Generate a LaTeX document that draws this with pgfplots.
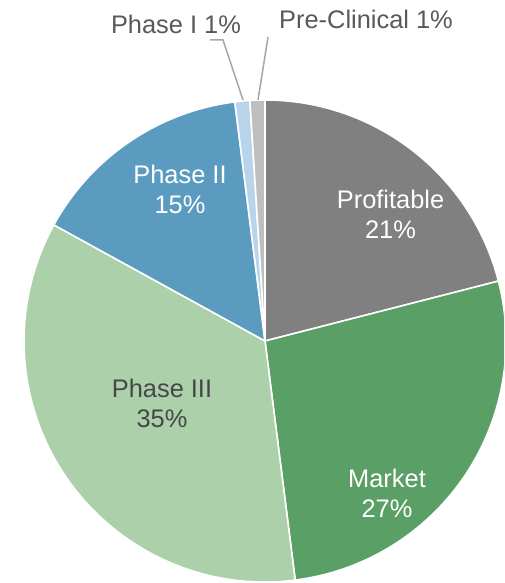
\documentclass[border=0pt]{standalone}
\usepackage{fontspec}
\setmainfont{Liberation Sans}
\usepackage{pgfplots}
\pgfplotsset{compat=1.18}

\definecolor{cProf}{HTML}{808080}
\definecolor{cMarket}{HTML}{5A9F66}
\definecolor{cPIII}{HTML}{ABD0AA}
\definecolor{cPII}{HTML}{5B9BC0}
\definecolor{cPI}{HTML}{B8D4EA}
\definecolor{cPre}{HTML}{BFBFBF}
\definecolor{txt}{HTML}{595959}
\definecolor{lead}{HTML}{A6A6A6}
\tikzset{lbl/.style={font=\fontsize{12.7}{15}\selectfont, align=center, inner sep=0pt}}

\begin{document}
\begin{tikzpicture}
% shares (%): Profitable 21, Market 27, Phase III 35, Phase II 15, Phase I 1, Pre-Clinical 1
% one axis unit = one pixel of the reference; centre (265,242), radius 241
\begin{axis}[
  x=0.5pt, y=0.5pt, scale only axis,
  xmin=0, xmax=504, ymin=0, ymax=583,
  hide axis, clip=true,
]
\path (rel axis cs:0,0) rectangle (rel axis cs:1,1);
% --- slices, clockwise from 12 o'clock ---
\addplot[fill=cProf, draw=white, line width=0.8pt]
  coordinates {(265,242) (265,483)} arc[start angle=90, delta angle=-21*3.6, radius=120.5pt] -- cycle;
\addplot[fill=cMarket, draw=white, line width=0.8pt]
  coordinates {(265,242) (498.43,301.93)} arc[start angle=90-21*3.6, delta angle=-27*3.6, radius=120.5pt] -- cycle;
\addplot[fill=cPIII, draw=white, line width=0.8pt]
  coordinates {(265,242) (295.20,2.90)} arc[start angle=90-48*3.6, delta angle=-35*3.6, radius=120.5pt] -- cycle;
\addplot[fill=cPII, draw=white, line width=0.8pt]
  coordinates {(265,242) (53.81,358.10)} arc[start angle=90-83*3.6, delta angle=-15*3.6, radius=120.5pt] -- cycle;
\addplot[fill=cPI, draw=white, line width=0.8pt]
  coordinates {(265,242) (234.80,481.10)} arc[start angle=90-98*3.6, delta angle=-1*3.6, radius=120.5pt] -- cycle;
\addplot[fill=cPre, draw=white, line width=0.8pt]
  coordinates {(265,242) (249.87,482.53)} arc[start angle=90-99*3.6, delta angle=-1*3.6, radius=120.5pt] -- cycle;
% --- leader lines ---
\addplot[lead, line width=0.75pt] coordinates {(210,543) (223,543) (243,483)};
\addplot[lead, line width=0.75pt] coordinates {(268,546) (258,483)};
% --- labels ---
\node[lbl, white] at (axis cs:390.5,369) {Profitable\\21\%};
\node[lbl, white] at (axis cs:387,89.5) {Market\\27\%};
\node[lbl, text=black!72] at (axis cs:162,180) {Phase III\\35\%};
\node[lbl, white] at (axis cs:180,394) {Phase II\\15\%};
\node[lbl, txt] at (axis cs:176,559) {Phase I 1\%};
\node[lbl, txt] at (axis cs:366,564) {Pre-Clinical 1\%};
\end{axis}
\end{tikzpicture}
\end{document}
